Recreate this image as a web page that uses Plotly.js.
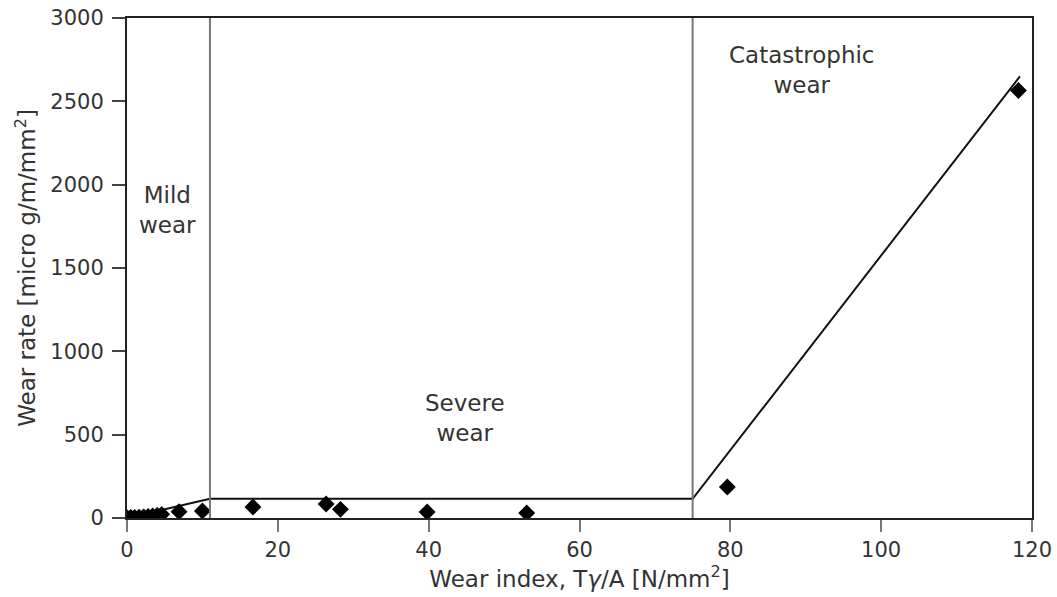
<!DOCTYPE html>
<html>
<head>
<meta charset="utf-8">
<script src="https://cdn.plot.ly/plotly-3.0.1.min.js"></script>
<style>html,body{margin:0;padding:0;background:#fff;}#chart{width:1057px;height:597px;}</style>
</head>
<body>
<div id="chart"></div>
<script>
// Measured points (wear index vs wear rate)
const pointX = [0, 0.5, 1.0, 1.6, 2.2, 2.8, 3.4, 4.0, 4.6, 6.9, 10.0, 16.7, 26.4, 28.3, 39.8, 53.0, 79.6, 118.2];
const pointY = [2, 3, 4, 5, 7, 9, 12, 16, 22, 38, 42, 66, 84, 52, 36, 30, 186, 2565];

// Fitted trend line
const fitX = [0, 11, 75, 118.4];
const fitY = [0, 115, 115, 2650];

// Regime boundaries
const boundaryX = [11, 75];

// Region labels
const regionLabels = ["Mild<br>wear", "Severe<br>wear", "Catastrophic<br>wear"];
const regionLabelX = [5.4, 44.8, 89.5];
const regionLabelY = [1850, 600, 2690];

const xTicks = [0, 20, 40, 60, 80, 100, 120];
const yTicks = [0, 500, 1000, 1500, 2000, 2500, 3000];

const fam = "DejaVu Sans, Liberation Sans, Arial, sans-serif";
const tickFont = {family: fam, size: 21, color: "#333"};
const titleFont = {family: fam, size: 23, color: "#333"};
const labelFont = {family: fam, size: 23, color: "#333"};

const shapes = boundaryX.map(v => ({
  type: "line", xref: "x", yref: "paper", x0: v, x1: v, y0: 0, y1: 1,
  line: {color: "#777", width: 2}
}));

const annotations = regionLabels.map((t, i) => ({
  x: regionLabelX[i], y: regionLabelY[i], xref: "x", yref: "y",
  text: t, showarrow: false, font: labelFont, align: "center"
}));

const traces = [
  {x: fitX, y: fitY, mode: "lines", line: {color: "#111", width: 2}, hoverinfo: "skip"},
  {x: pointX, y: pointY, mode: "markers", marker: {symbol: "diamond", size: 13, color: "#000"}}
];

const layout = {
  width: 1057, height: 597,
  margin: {l: 127, r: 25, t: 18, b: 79},
  paper_bgcolor: "#fff", plot_bgcolor: "#fff",
  showlegend: false,
  font: tickFont,
  xaxis: {
    range: [0, 120], tickvals: xTicks, ticktext: xTicks.map(String),
    showgrid: false, zeroline: false,
    showline: true, linecolor: "#222", linewidth: 2, mirror: true,
    ticks: "outside", ticklen: 12, tickwidth: 2, tickcolor: "#777",
    tickfont: tickFont,
    title: {text: "Wear index, T<i>γ</i>/A [N/mm<sup>2</sup>]", font: titleFont, standoff: 4}
  },
  yaxis: {
    range: [0, 3000], tickvals: yTicks, ticktext: yTicks.map(String),
    showgrid: false, zeroline: false,
    showline: true, linecolor: "#222", linewidth: 2, mirror: true,
    ticks: "outside", ticklen: 13, tickwidth: 2, tickcolor: "#444",
    ticklabelstandoff: 4,
    tickfont: tickFont,
    title: {text: "Wear rate [micro g/m/mm<sup>2</sup>]", font: titleFont, standoff: 8}
  },
  shapes: shapes,
  annotations: annotations
};

Plotly.newPlot("chart", traces, layout, {displayModeBar: false, staticPlot: true});
</script>
</body>
</html>
